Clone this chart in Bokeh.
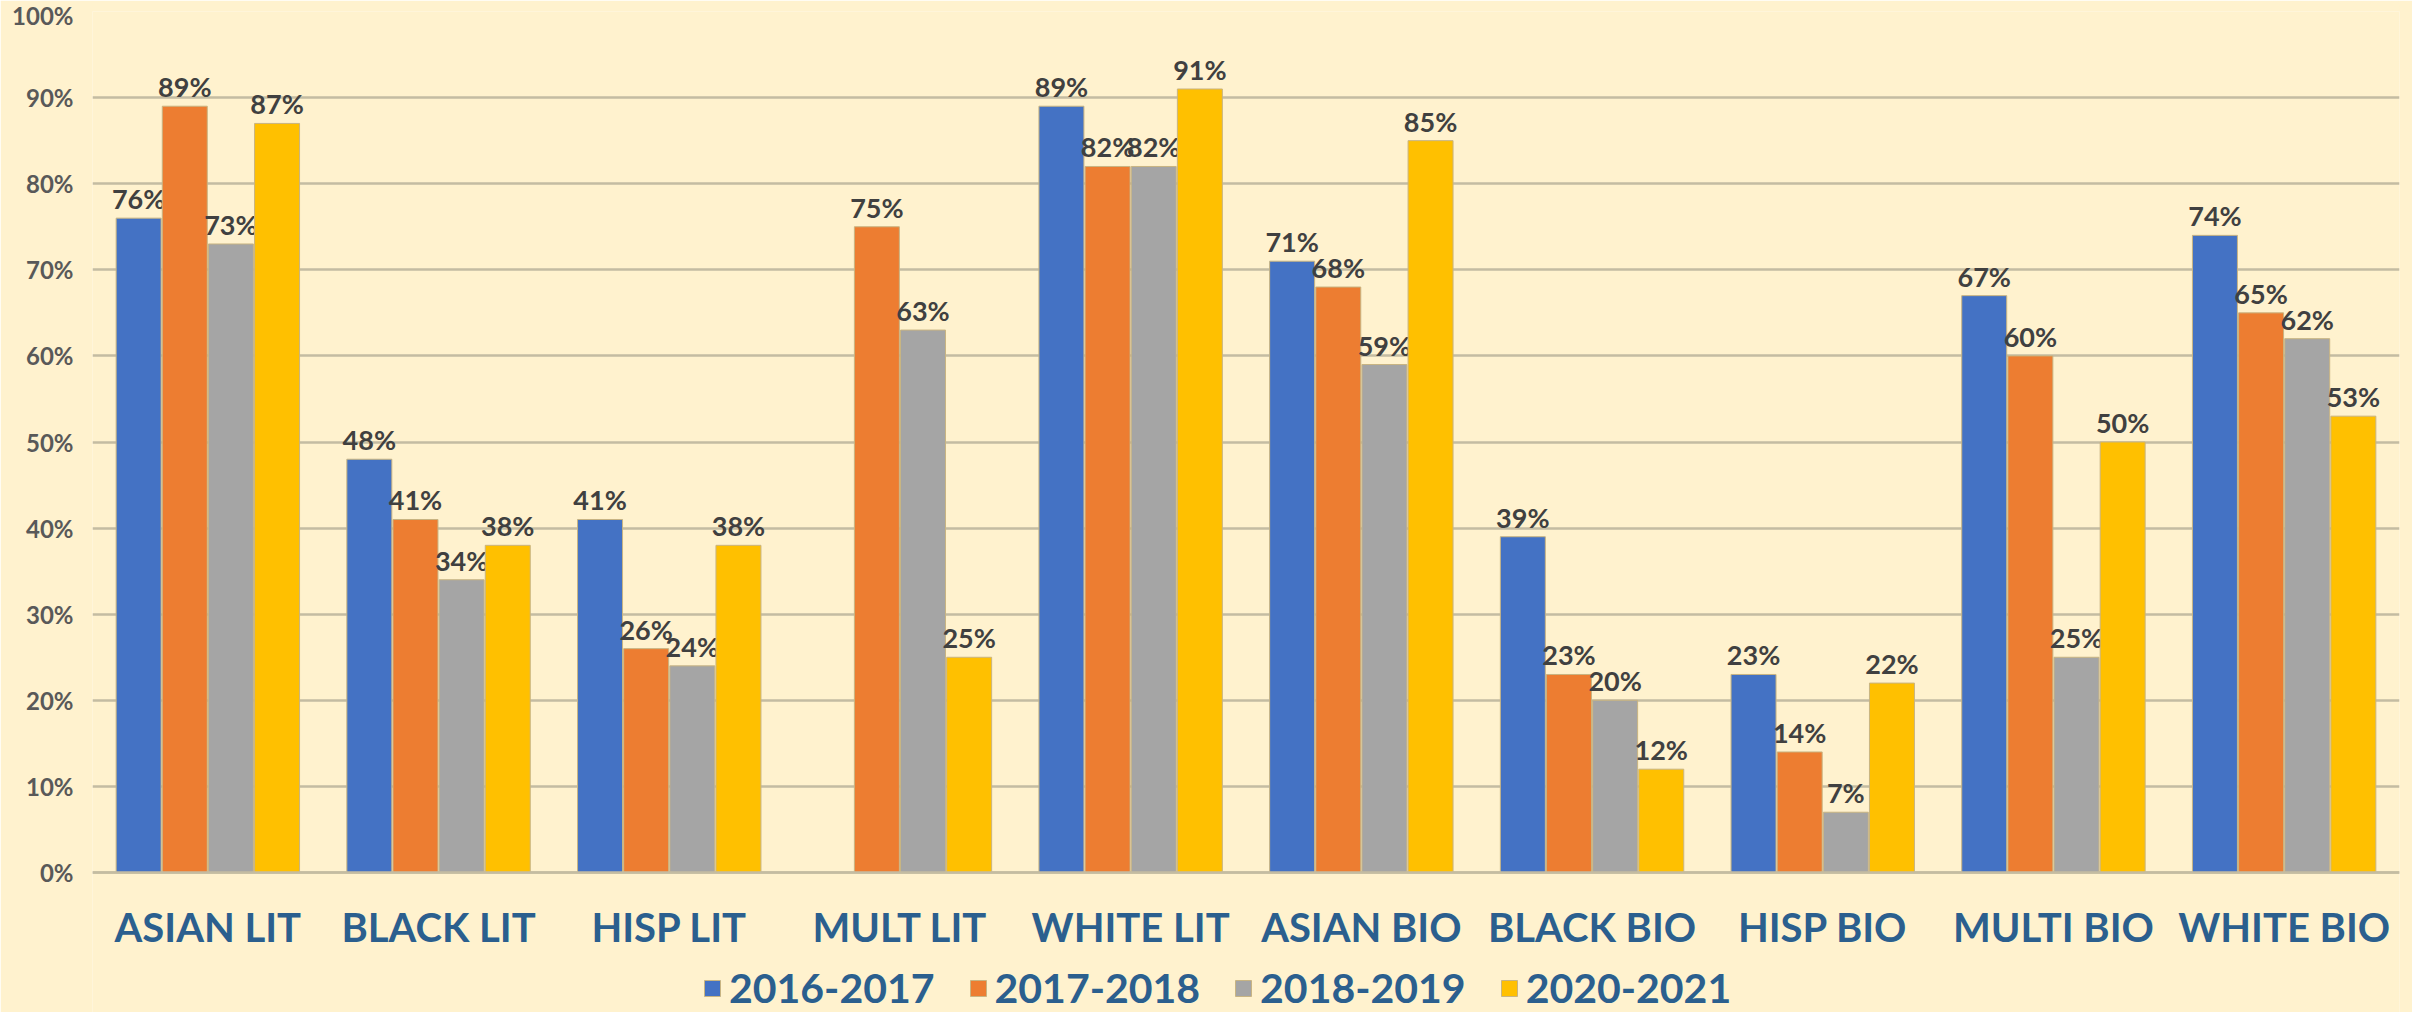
from bokeh.plotting import figure
from bokeh.models import ColumnDataSource, Legend, LegendItem, NumeralTickFormatter, FixedTicker
from bokeh.transform import dodge
from bokeh.core.properties import value
from bokeh.embed import file_html
from bokeh.resources import INLINE

categories = ["ASIAN LIT", "BLACK LIT", "HISP LIT", "MULT LIT", "WHITE LIT",
              "ASIAN BIO", "BLACK BIO", "HISP BIO", "MULTI BIO", "WHITE BIO"]
series = ["2016-2017", "2017-2018", "2018-2019", "2020-2021"]
v2016 = [0.76, 0.48, 0.41, None, 0.89, 0.71, 0.39, 0.23, 0.67, 0.74]
v2017 = [0.89, 0.41, 0.26, 0.75, 0.82, 0.68, 0.23, 0.14, 0.60, 0.65]
v2018 = [0.73, 0.34, 0.24, 0.63, 0.82, 0.59, 0.20, 0.07, 0.25, 0.62]
v2020 = [0.87, 0.38, 0.38, 0.25, 0.91, 0.85, 0.12, 0.22, 0.50, 0.53]
y_ticks = [0, 0.1, 0.2, 0.3, 0.4, 0.5, 0.6, 0.7, 0.8, 0.9, 1.0]

colors = ["#4472C4", "#ED7D31", "#A5A5A5", "#FFC000"]
offsets = [-0.3, -0.1, 0.1, 0.3]
BG = "#FFF2CE"
GRID = "#C4BCA2"
FONT = "Lato"

# the frame extends below 0% so the category labels and legend sit inside it
p = figure(x_range=categories, y_range=(-0.1626, 1.0), width=2412, height=1012,
           output_backend="svg", toolbar_location=None,
           background_fill_color=BG, border_fill_color=BG,
           min_border_left=92, min_border_right=13, min_border_top=11, min_border_bottom=0)
p.outline_line_color = None

items = []
for vals, col, off, name in zip([v2016, v2017, v2018, v2020], colors, offsets, series):
    xs = [c for c, v in zip(categories, vals) if v is not None]
    ys = [v for v in vals if v is not None]
    labels = [f"{round(v * 100)}%" for v in ys]
    src = ColumnDataSource(dict(x=xs, top=ys, label=labels))
    r = p.vbar(x=dodge("x", off, range=p.x_range), top="top", bottom=0, width=0.195, source=src,
               fill_color=col, line_color="#C8B482", line_width=1)
    p.text(x=dodge("x", off, range=p.x_range), y="top", text="label", source=src,
           text_align="center", text_baseline="bottom", y_offset=-3,
           text_font=value(FONT), text_font_style="bold", text_font_size="27px",
           text_color="#404040")
    items.append(LegendItem(label=name, renderers=[r]))

p.yaxis.ticker = FixedTicker(ticks=y_ticks)
p.yaxis.formatter = NumeralTickFormatter(format="0%")
p.yaxis.axis_line_color = None
p.yaxis.major_tick_line_color = None
p.yaxis.minor_tick_line_color = None
p.yaxis.major_label_text_font = FONT
p.yaxis.major_label_text_font_style = "bold"
p.yaxis.major_label_text_font_size = "24px"
p.yaxis.major_label_text_color = "#595959"
p.yaxis.major_label_standoff = 13

p.xaxis.fixed_location = 0
p.xaxis.axis_line_color = GRID
p.xaxis.axis_line_width = 2.5
p.xaxis.major_tick_line_color = None
p.xaxis.minor_tick_line_color = None
p.xaxis.major_label_text_font = FONT
p.xaxis.major_label_text_font_style = "bold"
p.xaxis.major_label_text_font_size = "40px"
p.xaxis.major_label_text_color = "#2B5F8E"
p.xaxis.major_label_standoff = 24

p.xgrid.grid_line_color = None
p.ygrid.grid_line_color = GRID
p.ygrid.grid_line_width = 2.5
p.ygrid.ticker = FixedTicker(ticks=y_ticks)

legend = Legend(items=items, orientation="horizontal", location=(610, 0),
                background_fill_alpha=0, border_line_color=None,
                label_text_font=FONT, label_text_font_style="bold",
                label_text_font_size="41px", label_text_color="#2B5F8E",
                glyph_width=20, glyph_height=20,
                label_standoff=7, spacing=33, padding=0, margin=0)
p.add_layout(legend, "center")

open("out.html", "w").write(file_html(p, INLINE))
